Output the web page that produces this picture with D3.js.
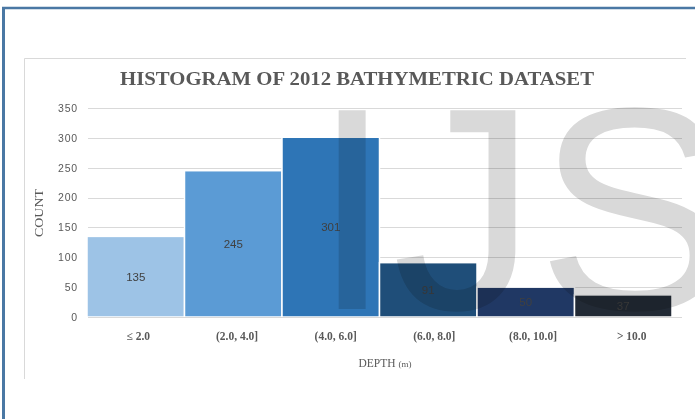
<!DOCTYPE html>
<html><head><meta charset="utf-8">
<script src="https://cdn.jsdelivr.net/npm/d3@7"></script>
<style>html,body{margin:0;padding:0;background:#fff;}svg{display:block;}</style>
</head><body>
<script>
const categories = ["≤ 2.0", "(2.0, 4.0]", "(4.0, 6.0]", "(6.0, 8.0]", "(8.0, 10.0]", "> 10.0"];
const counts = [135, 245, 301, 91, 50, 37];
const barColors = ["#9dc3e6", "#5b9bd5", "#2e75b6", "#1f4e79", "#203864", "#222a35"];
const yTicks = [0, 50, 100, 150, 200, 250, 300, 350];
const titleText = "HISTOGRAM OF 2012 BATHYMETRIC DATASET";
const yTitle = "COUNT";
const xTitle = "DEPTH";
const xUnit = "(m)";
const watermark = "IJS";

const W = 695, H = 419;
const svg = d3.select("body").append("svg").attr("width", W).attr("height", H);

// outer frame
svg.append("line").attr("x1", 3.5).attr("x2", 3.5).attr("y1", 8).attr("y2", H).attr("stroke", "#4a78a4").attr("stroke-width", 3);
svg.append("line").attr("x1", 2).attr("x2", W).attr("y1", 8).attr("y2", 8).attr("stroke", "#4a78a4").attr("stroke-width", 2.5);

// chart area border (top + left)
svg.append("line").attr("x1", 24.5).attr("x2", 24.5).attr("y1", 58.5).attr("y2", 379).attr("stroke", "#d9d9d9");
svg.append("line").attr("x1", 24.5).attr("x2", 686).attr("y1", 58.5).attr("y2", 58.5).attr("stroke", "#d9d9d9");

const xBars = d3.scaleBand().domain(categories).range([87, 672]).padding(0);
const xLabels = d3.scaleBand().domain(categories).range([89, 681]).padding(0);
const y = d3.scaleLinear().domain([0, 350]).range([317, 108]);

// gridlines
svg.append("g").selectAll("line").data(yTicks).join("line")
  .attr("x1", 88).attr("x2", 682)
  .attr("y1", d => Math.round(y(d)) + 0.5).attr("y2", d => Math.round(y(d)) + 0.5)
  .attr("stroke", "#d9d9d9").attr("stroke-width", 1);

// y axis labels
const yAxis = d3.axisLeft(y).tickValues(yTicks).tickSize(0).tickPadding(10);
const ya = svg.append("g").attr("transform", "translate(88,0)").call(yAxis);
ya.select(".domain").remove();
ya.selectAll("text").attr("font-family", "Liberation Sans, Arial, sans-serif").attr("font-size", 10.5)
  .attr("fill", "#595959").attr("letter-spacing", "0.8px");

// bars
svg.append("g").selectAll("rect").data(counts).join("rect")
  .attr("x", (d, i) => xBars(categories[i]))
  .attr("width", xBars.bandwidth())
  .attr("y", d => y(d))
  .attr("height", d => y(0) - y(d))
  .attr("fill", (d, i) => barColors[i])
  .attr("stroke", "#fff").attr("stroke-width", 1.5);

// value labels
svg.append("g").selectAll("text").data(counts).join("text")
  .attr("x", (d, i) => xBars(categories[i]) + xBars.bandwidth() / 2)
  .attr("y", d => (y(d) + y(0)) / 2)
  .attr("dy", "0.35em")
  .attr("text-anchor", "middle")
  .attr("font-family", "Liberation Sans, Arial, sans-serif").attr("font-size", 11.5)
  .attr("fill", "#404040")
  .text(d => d);

// x axis line
svg.append("line").attr("x1", 88).attr("x2", 682).attr("y1", 317.5).attr("y2", 317.5).attr("stroke", "#d9d9d9");

// x axis labels
const xAxis = d3.axisBottom(xLabels).tickSize(0).tickPadding(15);
const xa = svg.append("g").attr("transform", "translate(0,317)").call(xAxis);
xa.select(".domain").remove();
xa.selectAll("text").attr("font-family", "Liberation Serif, Times New Roman, serif").attr("font-weight", "bold")
  .attr("font-size", 11.5).attr("fill", "#595959");

// title
svg.append("text").attr("x", 357).attr("y", 85).attr("text-anchor", "middle")
  .attr("font-family", "Liberation Serif, Times New Roman, serif").attr("font-weight", "bold")
  .attr("font-size", 19).attr("fill", "#595959")
  .attr("textLength", 474).attr("lengthAdjust", "spacingAndGlyphs")
  .text(titleText);

// y title
svg.append("text").attr("transform", "translate(43,213) rotate(-90)").attr("text-anchor", "middle")
  .attr("font-family", "Liberation Serif, Times New Roman, serif").attr("font-size", 12)
  .attr("fill", "#595959").attr("textLength", 48).attr("lengthAdjust", "spacingAndGlyphs")
  .text(yTitle);

// x title
const xt = svg.append("text").attr("x", 385).attr("y", 367).attr("text-anchor", "middle")
  .attr("font-family", "Liberation Serif, Times New Roman, serif").attr("fill", "#595959");
xt.append("tspan").attr("font-size", 11.5).text(xTitle + " ");
xt.append("tspan").attr("font-size", 9).text(xUnit);

// watermark
svg.append("text").attr("x", 312).attr("y", 309)
  .attr("font-family", "Liberation Sans, Arial, sans-serif").attr("font-size", 289)
  .attr("fill", "#d9d9d9").style("mix-blend-mode", "multiply")
  .text(watermark);
</script>
</body></html>
